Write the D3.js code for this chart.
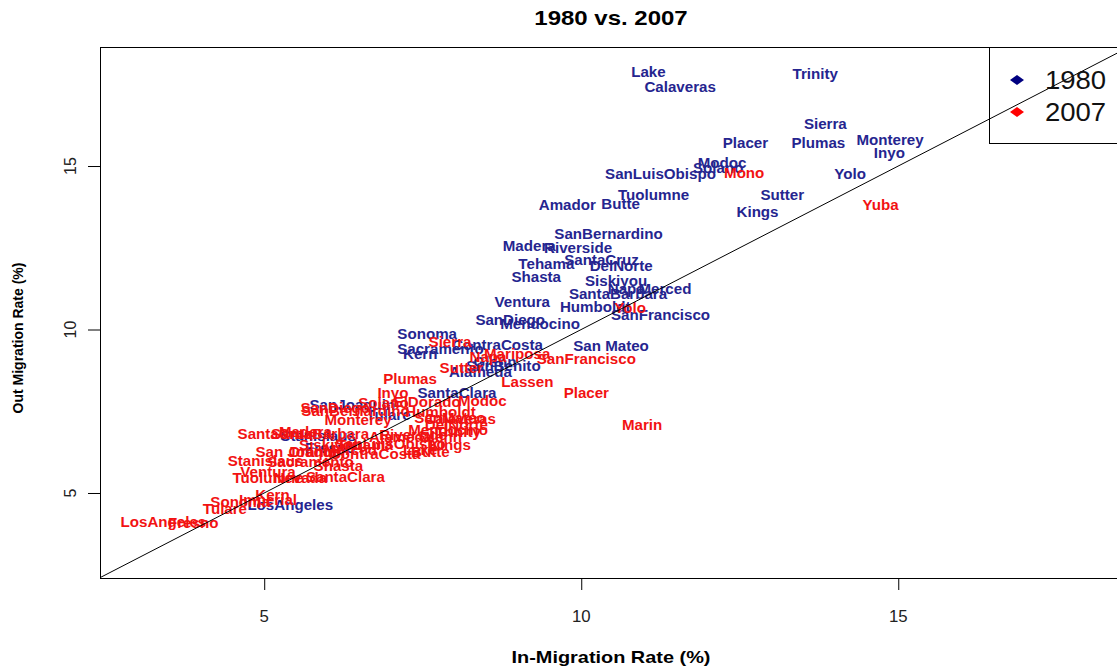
<!DOCTYPE html>
<meta charset="utf-8">
<title>1980 vs. 2007</title>
<style>
body { margin: 0; background: #fff; }
text { font-family: "Liberation Sans", Arial, sans-serif; }
</style>
<body>
<script src="https://d3js.org/d3.v7.min.js"></script>
<script>

// county labels, 1980 (in-migration %, out-migration %)
var names1980 = ["Lake", "Calaveras", "Trinity", "Sierra", "Placer", "Plumas", "Monterey", "Inyo",
  "Modoc", "Solano", "SanLuisObispo", "Yolo", "Tuolumne", "Sutter", "Amador", "Butte", "Kings",
  "SanBernardino", "Madera", "Riverside", "Tehama", "SantaCruz", "DelNorte", "Shasta", "Siskiyou",
  "Napa", "Merced", "SantaBarbara", "Ventura", "Humboldt", "SanFrancisco", "SanDiego", "Mendocino",
  "Sonoma", "Sacramento", "Kern", "ContraCosta", "San Mateo", "Glenn", "SanBenito", "Alameda",
  "SantaClara", "SanJoaquin", "Tulare", "Stanislaus", "Fresno", "LosAngeles"];
var in1980 = [11.06, 11.56, 13.69, 13.85, 12.59, 13.74, 14.87, 14.86,
  12.22, 12.16, 11.25, 14.24, 11.14, 13.17, 9.78, 10.62, 12.78,
  10.43, 9.18, 9.95, 9.45, 10.32, 10.63, 9.29, 10.55,
  10.71, 11.32, 10.58, 9.07, 10.22, 11.25, 8.88, 9.35,
  7.57, 7.78, 7.46, 8.68, 10.47, 8.64, 8.77, 8.41,
  8.04, 6.39, 6.96, 5.85, 6.04, 5.41];
var out1980 = [17.89, 17.43, 17.83, 16.30, 15.72, 15.72, 15.81, 15.41,
  15.08, 14.95, 14.77, 14.77, 14.13, 14.10, 13.82, 13.85, 13.61,
  12.91, 12.54, 12.48, 11.99, 12.14, 11.93, 11.62, 11.47,
  11.25, 11.25, 11.10, 10.83, 10.70, 10.46, 10.28, 10.18,
  9.85, 9.42, 9.24, 9.54, 9.51, 9.02, 8.90, 8.69,
  8.07, 7.68, 7.40, 6.73, 6.39, 4.62];

// county labels, 2007
var names2007 = ["Mono", "Yuba", "Yolo", "SanFrancisco", "Sierra", "Mariposa", "Napa", "Sutter",
  "Lassen", "Placer", "Marin", "Plumas", "Inyo", "Solano", "ElDorado", "Modoc", "SanDiego",
  "SanBernardino", "Monterey", "Humboldt", "SanMateo", "Calaveras", "DelNorte", "Trinity",
  "Mendocino", "SantaBarbara", "Riverside", "SantaCruz", "Madera", "Glenn", "Alameda",
  "SanLuisObispo", "Tehama", "Kings", "Siskiyou", "Lake", "Merced", "Butte", "ContraCosta",
  "Orange", "San Joaquin", "Stanislaus", "Sacramento", "Shasta", "Ventura", "Tuolumne", "Nevada",
  "SantaClara", "Kern", "Imperial", "Sonoma", "Tulare", "LosAngeles", "Fresno"];
var in2007 = [12.57, 14.72, 10.77, 10.08, 7.93, 8.99, 8.53, 8.11,
  9.15, 10.08, 10.96, 7.30, 7.03, 6.88, 7.57, 8.44, 6.12,
  6.44, 6.48, 7.78, 7.93, 8.09, 8.03, 8.06,
  7.90, 5.88, 7.35, 5.17, 5.65, 7.78, 7.15,
  6.99, 6.59, 7.93, 6.04, 7.46, 6.36, 7.62, 6.75,
  5.80, 5.57, 5.02, 5.73, 6.17, 5.06, 5.06, 5.57,
  6.28, 5.13, 5.06, 4.62, 4.38, 3.41, 3.88];
var out2007 = [14.80, 13.82, 10.67, 9.11, 9.63, 9.24, 9.17, 8.81,
  8.41, 8.07, 7.09, 8.50, 8.07, 7.74, 7.77, 7.80, 7.61,
  7.52, 7.22, 7.49, 7.31, 7.25, 7.09, 6.88,
  6.94, 6.82, 6.79, 6.82, 6.88, 6.70, 6.70,
  6.51, 6.48, 6.48, 6.48, 6.33, 6.33, 6.27, 6.18,
  6.27, 6.24, 5.99, 5.96, 5.84, 5.63, 5.47, 5.47,
  5.50, 4.95, 4.80, 4.74, 4.50, 4.10, 4.07];

var xTicks = [5, 10, 15],
    yTicks = [5, 10, 15];
var years = ["1980", "2007"];
var colors = ["#25258f", "#f21212"];

var width = 1117, height = 671;
var pLeft = 100, pTop = 47, pBottom = 578, pRight = 1122;

var svg = d3.select("body").append("svg")
    .attr("width", width)
    .attr("height", height);

var x = d3.scaleLinear().domain([2.41, 18.45]).range([pLeft, 1117]);
var y = d3.scaleLinear().domain([2.4, 18.64]).range([pBottom, pTop]);

svg.append("clipPath").attr("id", "plotclip")
  .append("rect")
    .attr("x", pLeft).attr("y", pTop)
    .attr("width", pRight - pLeft).attr("height", pBottom - pTop);

var plot = svg.append("g").attr("clip-path", "url(#plotclip)");

function labels(names, xs, ys, color) {
  plot.append("g").selectAll("text")
    .data(names)
    .enter().append("text")
      .attr("transform", function(d, i) {
        return "translate(" + x(xs[i]) + "," + y(ys[i]) + ") scale(1.08,1)";
      })
      .attr("text-anchor", "middle")
      .attr("dy", "0.36em")
      .attr("font-size", 14)
      .attr("font-weight", "bold")
      .attr("fill", color)
      .text(function(d) { return d; });
}

labels(names1980, in1980, out1980, colors[0]);
labels(names2007, in2007, out2007, colors[1]);

// y = x reference line
var lineEnds = x.domain();
plot.append("line")
    .attr("x1", x(lineEnds[0])).attr("y1", y(lineEnds[0]))
    .attr("x2", x(lineEnds[1])).attr("y2", y(lineEnds[1]))
    .attr("stroke", "#000")
    .attr("stroke-width", 1);

// axes (ticks only, labels drawn separately)
svg.append("g")
    .attr("transform", "translate(0," + pBottom + ")")
    .call(d3.axisBottom(x).tickValues(xTicks).tickSize(12).tickFormat(""));
svg.append("g")
    .attr("transform", "translate(" + pLeft + ",0)")
    .call(d3.axisLeft(y).tickValues(yTicks).tickSize(12).tickFormat(""));
svg.selectAll(".domain").remove();
svg.selectAll(".tick line").attr("stroke", "#000");

svg.append("g").selectAll("text")
  .data(xTicks)
  .enter().append("text")
    .attr("transform", function(d) { return "translate(" + x(d) + ",616) scale(1.05,1)"; })
    .attr("text-anchor", "middle")
    .attr("dy", "0.36em")
    .attr("font-size", 16)
    .attr("fill", "#222")
    .text(function(d) { return d; });

svg.append("g").selectAll("text")
  .data(yTicks)
  .enter().append("text")
    .attr("transform", function(d) { return "translate(70," + y(d) + ") rotate(-90)"; })
    .attr("text-anchor", "middle")
    .attr("dy", "0.36em")
    .attr("font-size", 16)
    .attr("fill", "#222")
    .text(function(d) { return d; });

// plot box
svg.append("rect")
    .attr("x", pLeft + 0.5).attr("y", pTop + 0.5)
    .attr("width", pRight - pLeft).attr("height", pBottom - pTop)
    .attr("fill", "none")
    .attr("stroke", "#000");

// titles
svg.append("text")
    .attr("transform", "translate(611,18) scale(1.2,1)")
    .attr("text-anchor", "middle")
    .attr("dy", "0.36em")
    .attr("font-size", 20)
    .attr("font-weight", "bold")
    .text("1980 vs. 2007");

svg.append("text")
    .attr("transform", "translate(611,657) scale(1.17,1)")
    .attr("text-anchor", "middle")
    .attr("dy", "0.36em")
    .attr("font-size", 17)
    .attr("font-weight", "bold")
    .text("In-Migration Rate (%)");

svg.append("text")
    .attr("transform", "translate(18,338) rotate(-90)")
    .attr("text-anchor", "middle")
    .attr("dy", "0.36em")
    .attr("font-size", 14)
    .attr("font-weight", "bold")
    .text("Out Migration Rate (%)");

// legend
var legend = svg.append("g");
legend.append("rect")
    .attr("x", 989.5).attr("y", pTop + 0.5)
    .attr("width", 150).attr("height", 96)
    .attr("fill", "none")
    .attr("stroke", "#000");

var diamond = d3.symbol(d3.symbolSquare).size(50);
var items = legend.selectAll("g.item")
  .data(years)
  .enter().append("g")
    .attr("class", "item")
    .attr("transform", function(d, i) { return "translate(1017," + (80 + i * 32) + ")"; });
items.append("path")
    .attr("d", diamond)
    .attr("transform", "scale(1.4,1) rotate(45)")
    .attr("fill", function(d, i) { return i === 0 ? "#000080" : "#ff0000"; });
items.append("text")
    .attr("transform", "translate(28,0) scale(1.1,1)")
    .attr("dy", "0.36em")
    .attr("font-size", 25)
    .attr("fill", "#111")
    .text(function(d) { return d; });

</script>
</body>
</html>
